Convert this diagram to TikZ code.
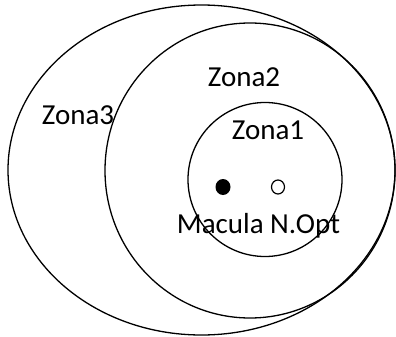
\documentclass[tikz,border=0pt]{standalone}
\usepackage{fontspec}
\setmainfont{Carlito}
\begin{document}
\begin{tikzpicture}[x=1pt,y=-1pt,
  ring/.style={draw=black,line width=1.3pt},
  lbl/.style={font=\fontsize{29}{32}\selectfont,inner sep=0pt}]
\useasboundingbox (0,0) rectangle (396,337);
\draw[ring] (201.5,170) ellipse [x radius=193.5, y radius=165];
\draw[ring] (250,170.5) ellipse [x radius=145, y radius=147.5];
\draw[ring] (265,179.5) circle [radius=77];
\fill[black] (223,187) ellipse [x radius=7.5, y radius=8];
\draw[line width=1.2pt] (278,187) ellipse [x radius=6.5, y radius=7];
\node[lbl] (z2) at (244,77) {Zona2};
\node[lbl] (z3) at (78,115) {Zona3};
\node[lbl] (z1) at (268,130) {Zona1};
\node[lbl] (mac) at (258.5,226) {Macula N.Opt};
\end{tikzpicture}
\end{document}
